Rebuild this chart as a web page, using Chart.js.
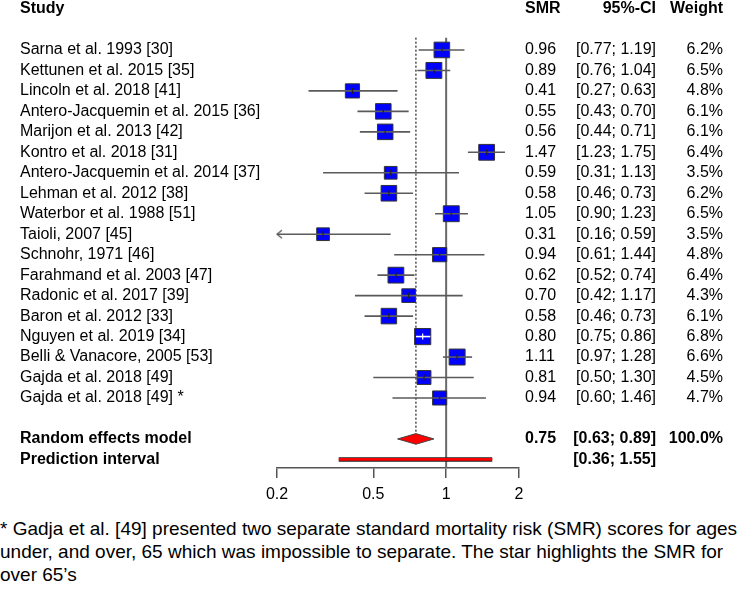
<!DOCTYPE html>
<html>
<head>
<meta charset="utf-8">
<script src="https://cdn.jsdelivr.net/npm/chart.js@4.4.1/dist/chart.umd.min.js"></script>
<style>
  html, body { margin: 0; padding: 0; background: #ffffff; }
  #wrap { position: relative; width: 749px; height: 510px; }
  #note { font-family: "Liberation Sans", Arial, sans-serif; font-size: 19px; line-height: 23px;
          color: #000; margin: 7px 0 0 0; white-space: nowrap; }
</style>
</head>
<body>
<div id="wrap"><canvas id="c" width="749" height="510"></canvas></div>
<div id="note">* Gadja et al. [49] presented two separate standard mortality risk (SMR) scores for ages<br>under, and over, 65 which was impossible to separate. The star highlights the SMR for<br>over 65’s</div>
<script>
// ---------------- data ----------------
const studies = [
  'Sarna et al. 1993 [30]', 'Kettunen et al. 2015 [35]', 'Lincoln et al. 2018 [41]',
  'Antero-Jacquemin et al. 2015 [36]', 'Marijon et al. 2013 [42]', 'Kontro et al. 2018 [31]',
  'Antero-Jacquemin et al. 2014 [37]', 'Lehman et al. 2012 [38]', 'Waterbor et al. 1988 [51]',
  'Taioli, 2007 [45]', 'Schnohr, 1971 [46]', 'Farahmand et al. 2003 [47]',
  'Radonic et al. 2017 [39]', 'Baron et al. 2012 [33]', 'Nguyen et al. 2019 [34]',
  'Belli & Vanacore, 2005 [53]', 'Gajda et al. 2018 [49]', 'Gajda et al. 2018 [49] *'
];
const smr     = [0.96, 0.89, 0.41, 0.55, 0.56, 1.47, 0.59, 0.58, 1.05, 0.31, 0.94, 0.62, 0.70, 0.58, 0.80, 1.11, 0.81, 0.94];
const lower   = [0.77, 0.76, 0.27, 0.43, 0.44, 1.23, 0.31, 0.46, 0.90, 0.16, 0.61, 0.52, 0.42, 0.46, 0.75, 0.97, 0.50, 0.60];
const upper   = [1.19, 1.04, 0.63, 0.70, 0.71, 1.75, 1.13, 0.73, 1.23, 0.59, 1.44, 0.74, 1.17, 0.73, 0.86, 1.28, 1.30, 1.46];
const weights = [6.2, 6.5, 4.8, 6.1, 6.1, 6.4, 3.5, 6.2, 6.5, 3.5, 4.8, 6.4, 4.3, 6.1, 6.8, 6.6, 4.5, 4.7];
const pooled = [0.75, 0.63, 0.89];          // estimate, lower, upper
const pooledWeight = 100.0;
const predInterval = [0.36, 1.55];
const xTicks = [0.2, 0.5, 1, 2];
const headers = ['Study', 'SMR', '95%-CI', 'Weight'];
const pooledLabels = ['Random effects model', 'Prediction interval'];

// ---------------- layout helpers ----------------
const FONT = '"Liberation Sans", Arial, sans-serif';
const LINE_GREY = '#5a5a5a';
const HEADER_ROW = -2;
const POOLED_ROW = studies.length + 1;
const PRED_ROW = studies.length + 2;
const Y_MIN = -2.44, Y_MAX = 20.42;
const REF_TOP = -0.6;
const DIAMOND_H = 0.26;
const X_MIN = xTicks[0], X_MAX = xTicks[xTicks.length - 1];

const fmt2 = v => v.toFixed(2);
function labelFor(col, r) {
  if (r === HEADER_ROW) return headers[col];
  if (r >= 0 && r < studies.length) {
    return [studies[r], fmt2(smr[r]), '[' + fmt2(lower[r]) + '; ' + fmt2(upper[r]) + ']', weights[r].toFixed(1) + '%'][col];
  }
  if (r === POOLED_ROW) return [pooledLabels[0], fmt2(pooled[0]), '[' + fmt2(pooled[1]) + '; ' + fmt2(pooled[2]) + ']', pooledWeight.toFixed(1) + '%'][col];
  if (r === PRED_ROW) return [pooledLabels[1], '', '[' + fmt2(predInterval[0]) + '; ' + fmt2(predInterval[1]) + ']', ''][col];
  return '';
}
const textRows = [HEADER_ROW].concat(studies.map((_, i) => i), [POOLED_ROW, PRED_ROW]);
const isBold = v => v === HEADER_ROW || v >= POOLED_ROW;

function boxSide(w) { return 3.9 + 4.7 * Math.sqrt(w); }
function ciInside(i, chart) {
  const xs = chart.scales.x;
  if (!xs) return false;
  const c = xs.getPixelForValue(smr[i]), h = boxSide(weights[i]) / 2;
  return xs.getPixelForValue(lower[i]) >= c - h && xs.getPixelForValue(upper[i]) <= c + h;
}

function yAxis(col, position, width, align, padding, weight) {
  return {
    type: 'linear', position: position, reverse: true, min: Y_MIN, max: Y_MAX, weight: weight,
    grid: { display: false, drawTicks: false }, border: { display: false },
    afterBuildTicks: s => { s.ticks = textRows.map(v => ({ value: v })); },
    afterFit: s => { s.width = width; s.paddingTop = 0; s.paddingBottom = 0; },
    ticks: {
      autoSkip: false, crossAlign: align, padding: padding, color: '#000',
      font: ctx => ({ family: FONT, size: 16, weight: (ctx.tick && isBold(ctx.tick.value)) ? 'bold' : 'normal' }),
      callback: v => labelFor(col, v)
    }
  };
}

function makeChevron() {
  const c = document.createElement('canvas');
  c.width = 14; c.height = 12;
  const g = c.getContext('2d');
  g.strokeStyle = LINE_GREY; g.lineWidth = 1.3;
  g.beginPath(); g.moveTo(12, 2); g.lineTo(7, 6); g.lineTo(12, 10); g.stroke();
  return c;
}

// ---------------- datasets ----------------
const datasets = [];
// line of no effect
datasets.push({ type: 'line', data: [{ x: 1, y: REF_TOP }, { x: 1, y: Y_MAX }], borderColor: '#6a6a6a',
  borderWidth: 2, pointRadius: 0, order: 20, yAxisID: 'y', clip: false });
// pooled estimate dotted line
datasets.push({ type: 'line', data: [{ x: pooled[0], y: REF_TOP }, { x: pooled[0], y: POOLED_ROW - DIAMOND_H }],
  borderColor: '#4a4a4a', borderWidth: 1.5, borderDash: [2, 2], pointRadius: 0, order: 19, yAxisID: 'y' });
// study squares
datasets.push({ type: 'scatter', data: studies.map((_, i) => ({ x: smr[i], y: i })), pointStyle: 'rect',
  pointRadius: ctx => boxSide(weights[ctx.dataIndex]) / Math.SQRT2, backgroundColor: '#0000ff',
  borderColor: '#333333', borderWidth: 1, order: 10, yAxisID: 'y' });
// confidence interval lines
studies.forEach((_, i) => {
  datasets.push({ type: 'line', data: [{ x: lower[i], y: i }, { x: upper[i], y: i }],
    borderColor: ctx => ciInside(i, ctx.chart) ? '#ffffff' : LINE_GREY,
    borderWidth: 1.6, pointRadius: 0, order: 8, yAxisID: 'y' });
});
// estimate tick inside square
datasets.push({ type: 'scatter', data: studies.map((_, i) => ({ x: smr[i], y: i })), pointStyle: 'line',
  rotation: 90, pointRadius: 3, borderWidth: 1.2,
  borderColor: ctx => ciInside(ctx.dataIndex, ctx.chart) ? '#ffffff' : '#222222', order: 7, yAxisID: 'y' });
// arrows for truncated intervals
const chevron = makeChevron();
datasets.push({ type: 'scatter', data: studies.map((_, i) => i).filter(i => lower[i] < X_MIN).map(i => ({ x: X_MIN, y: i })),
  pointStyle: chevron, pointRadius: 6, order: 6, yAxisID: 'y', clip: false });
// pooled diamond
datasets.push({ type: 'line', data: [
    { x: pooled[1], y: POOLED_ROW }, { x: pooled[0], y: POOLED_ROW - DIAMOND_H },
    { x: pooled[2], y: POOLED_ROW }, { x: pooled[0], y: POOLED_ROW + DIAMOND_H }, { x: pooled[1], y: POOLED_ROW }],
  borderColor: '#444444', borderWidth: 1, backgroundColor: '#ff0000', fill: 'shape', tension: 0,
  pointRadius: 0, order: 5, yAxisID: 'y' });
// prediction interval bar
datasets.push({ type: 'line', data: [{ x: predInterval[0], y: PRED_ROW }, { x: predInterval[1], y: PRED_ROW }],
  borderColor: '#222222', borderWidth: 4.5, borderCapStyle: 'butt', pointRadius: 0, order: 4, yAxisID: 'y' });
datasets.push({ type: 'line', data: [{ x: predInterval[0], y: PRED_ROW }, { x: predInterval[1], y: PRED_ROW }],
  borderColor: '#ff0000', borderWidth: 2.6, borderCapStyle: 'butt', pointRadius: 0, order: 3, yAxisID: 'y' });

// ---------------- chart ----------------
new Chart(document.getElementById('c'), {
  type: 'scatter',
  data: { datasets: datasets },
  options: {
    responsive: false, animation: false, devicePixelRatio: 1, events: [],
    layout: { autoPadding: false, padding: { left: 20, right: 26, top: 0, bottom: 0 } },
    plugins: { legend: { display: false }, tooltip: { enabled: false } },
    scales: {
      x: {
        type: 'logarithmic', position: 'bottom', min: X_MIN, max: X_MAX,
        afterBuildTicks: s => { s.ticks = xTicks.map(v => ({ value: v })); },
        afterFit: s => { s.height = 42; s.paddingLeft = 0; s.paddingRight = 0; },
        grid: { display: true, drawOnChartArea: false, drawTicks: true, tickLength: 10, color: '#555555', lineWidth: 1.5 },
        border: { display: true, color: '#555555', width: 1.5 },
        ticks: { autoSkip: false, maxRotation: 0, padding: 7, color: '#000', font: { family: FONT, size: 16 },
                 callback: v => String(v) }
      },
      y:  yAxis(0, 'left', 257, 'far', 0, 0),
      ys: yAxis(1, 'right', 53, 'near', 6, 1),
      yc: yAxis(2, 'right', 84, 'far', 0, 2),
      yw: yAxis(3, 'right', 67, 'far', 0, 3)
    }
  }
});
</script>
</body>
</html>
